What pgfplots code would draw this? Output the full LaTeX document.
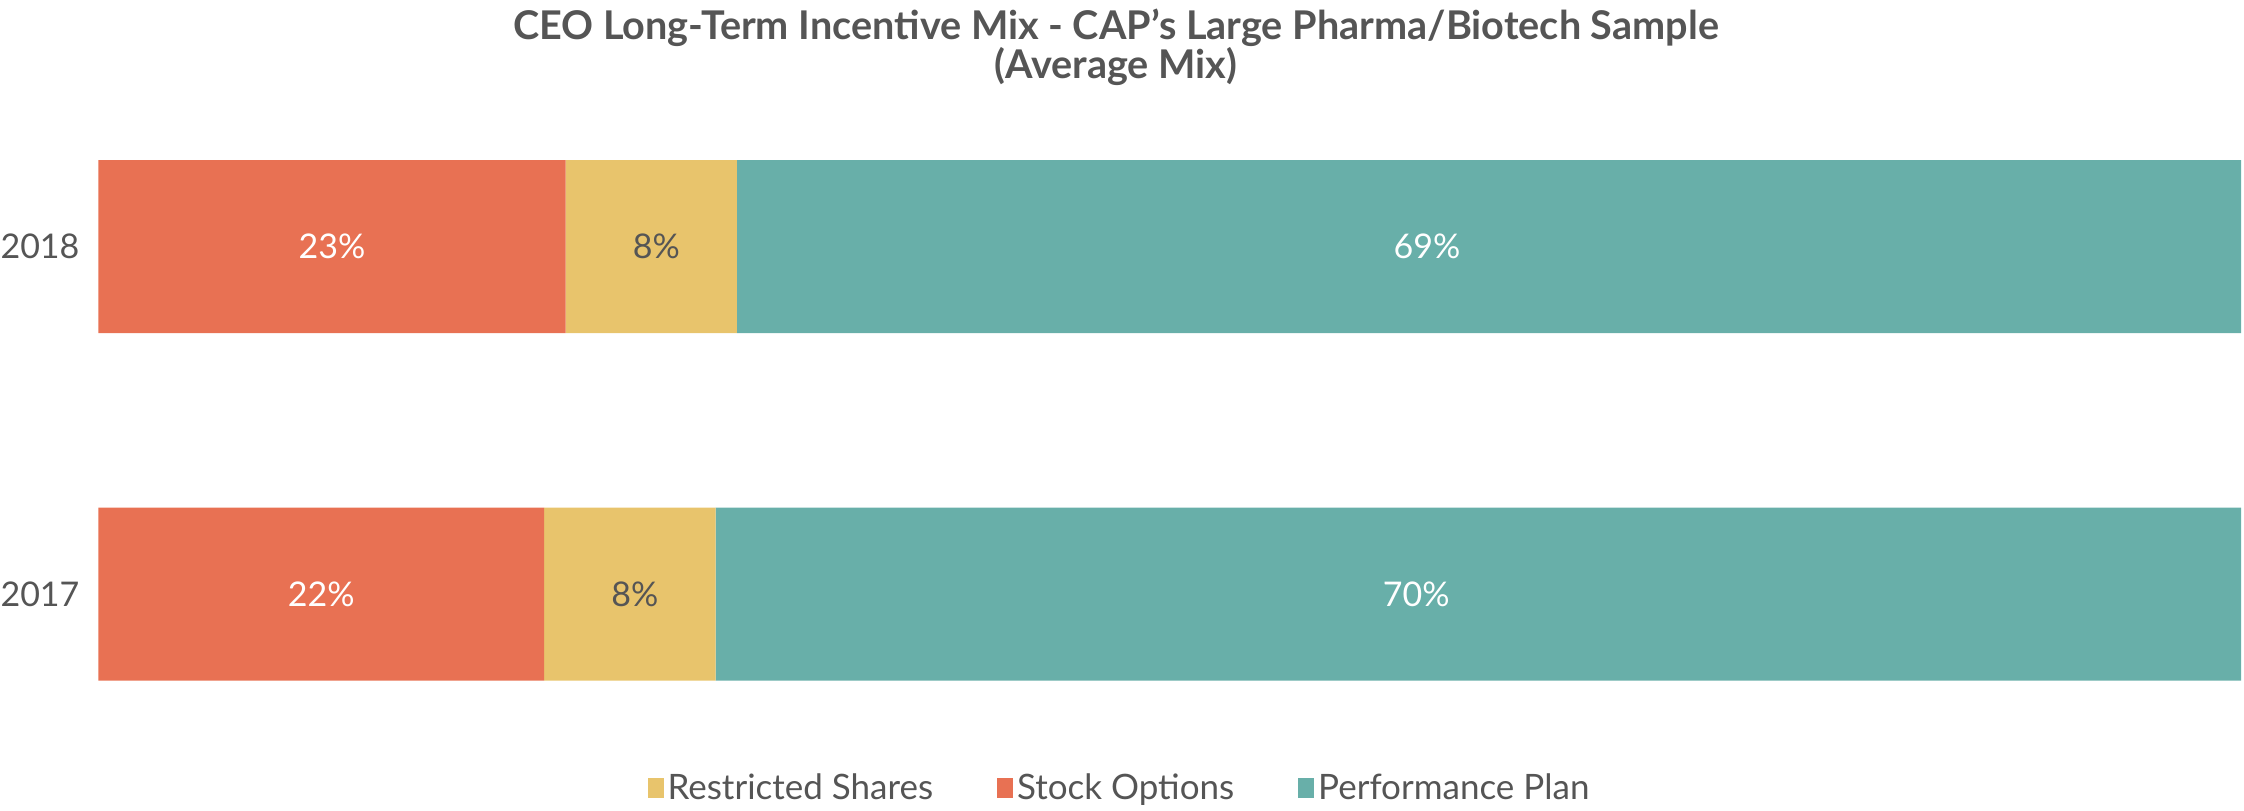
\documentclass[border=0pt]{standalone}
\usepackage{pgfplots}
\pgfplotsset{compat=1.18}
\usepackage{fontspec}
\setmainfont{Lato}
\definecolor{orangec}{HTML}{E87153}
\definecolor{yellowc}{HTML}{E8C46C}
\definecolor{tealc}{HTML}{68AFA9}
\definecolor{textc}{HTML}{555555}
\begin{document}
\begin{tikzpicture}[x=1pt,y=1pt]
\path[use as bounding box] (0,0) rectangle (1122,405);
\node[text=textc, font=\fontsize{19.8}{23}\selectfont\bfseries, align=center] at (558,391) {CEO Long-Term Incentive Mix - CAP's Large Pharma/Biotech Sample};
\node[text=textc, font=\fontsize{19.8}{23}\selectfont\bfseries, align=center] at (558,371.5) {(Average Mix)};
\begin{axis}[
  at={(49.25pt,21.125pt)}, anchor=south west,
  scale only axis, width=1071.25pt, height=347.5pt,
  xbar stacked, bar width=86.5pt,
  xmin=0, xmax=100, ymin=-0.5, ymax=1.5,
  ytick={0,1}, yticklabels={2017,2018},
  hide x axis,
  axis y line*=left, y axis line style={draw=none},
  major tick length=0pt,
  yticklabel style={text=textc, font=\fontsize{17}{20}\selectfont, xshift=-6pt},
  point meta=explicit symbolic,
  nodes near coords,
  every node near coord/.append style={font=\fontsize{17}{20}\selectfont},
  legend columns=3,
  legend style={draw=none, at={(rel axis cs:0.477,-0.0291)}, anchor=center, font=\fontsize{17.5}{20}\selectfont, text=textc, /tikz/every even column/.append style={column sep=30pt}},
  legend image code/.code={\fill[#1] (0pt,-5pt) rectangle (8pt,5pt);},
]
\addlegendimage{fill=yellowc, draw=none}\addlegendentry{Restricted Shares}
\addlegendimage{fill=orangec, draw=none}\addlegendentry{Stock Options}
\addlegendimage{fill=tealc, draw=none}\addlegendentry{Performance Plan}
\addplot[fill=orangec, draw=none, forget plot, every node near coord/.append style={text=white}] coordinates {(20.8,0) [22\%] (21.8,1) [23\%]};
\addplot[fill=yellowc, draw=none, forget plot, every node near coord/.append style={text=textc, xshift=2.5pt}] coordinates {(8.0,0) [8\%] (8.0,1) [8\%]};
\addplot[fill=tealc, draw=none, forget plot, every node near coord/.append style={text=white, xshift=-31pt}] coordinates {(71.2,0) [70\%] (70.2,1) [69\%]};
\end{axis}
\end{tikzpicture}
\end{document}
